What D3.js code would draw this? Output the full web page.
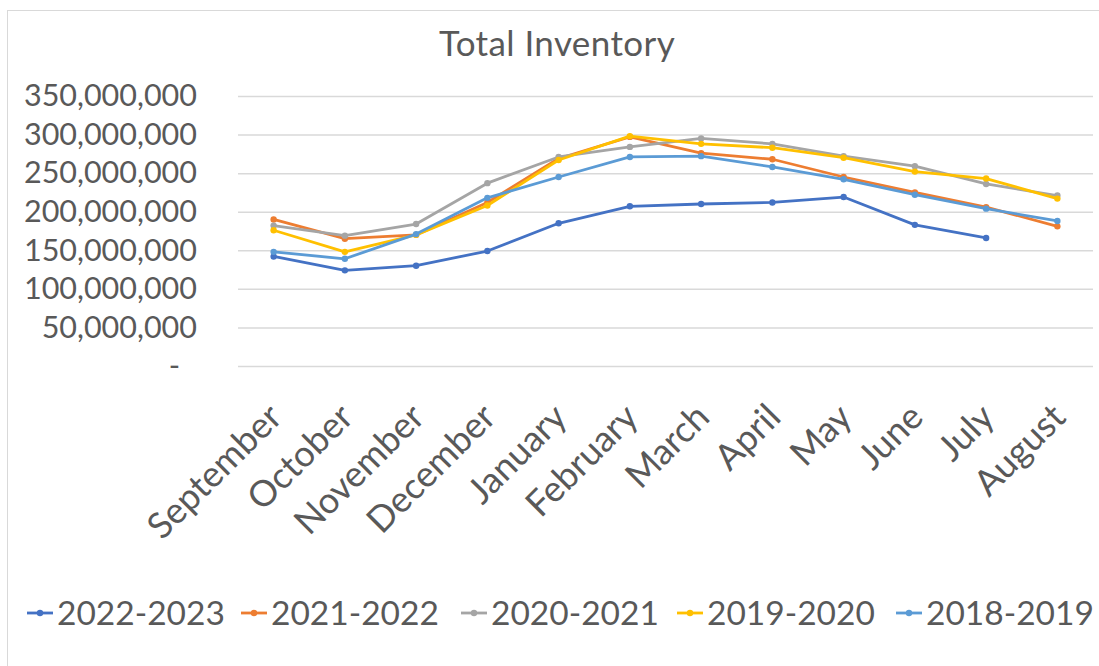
<!DOCTYPE html>
<html lang="en">
<head>
  <meta charset="UTF-8">
  <title>Total Inventory</title>
  <script src="https://d3js.org/d3.v7.min.js"></script>
  <style>
    body { margin: 0; background: #fff; }
    svg text { font-family: Lato, "Open Sans", sans-serif; fill: #595959; }
  </style>
</head>
<body>
<svg id="chart" width="1099" height="666"></svg>
<script>
  const months = ["September", "October", "November", "December", "January", "February",
                  "March", "April", "May", "June", "July", "August"];
  const yTicks = [0, 50e6, 100e6, 150e6, 200e6, 250e6, 300e6, 350e6];

  const s2022 = [142e6, 124e6, 130e6, 149e6, 185e6, 207e6, 210e6, 212e6, 219e6, 183e6, 166e6, null];
  const s2021 = [190e6, 165e6, 170e6, 212e6, 269e6, 297e6, 276e6, 268e6, 245e6, 225e6, 206e6, 181e6];
  const s2020 = [182e6, 169e6, 184e6, 237e6, 271e6, 284e6, 295e6, 288e6, 272e6, 259e6, 236e6, 221e6];
  const s2019 = [176e6, 148e6, 170e6, 208e6, 267e6, 298e6, 288e6, 283e6, 270e6, 252e6, 243e6, 217e6];
  const s2018 = [148e6, 139e6, 171e6, 218e6, 245e6, 271e6, 272e6, 258e6, 242e6, 222e6, 204e6, 188e6];

  const seriesNames = ["2022-2023", "2021-2022", "2020-2021", "2019-2020", "2018-2019"];
  const seriesValues = [s2022, s2021, s2020, s2019, s2018];
  const colors = ["#4472C4", "#ED7D31", "#A5A5A5", "#FFC000", "#5B9BD5"];

  const svg = d3.select("#chart");
  const plot = { left: 238, right: 1093, top: 96, bottom: 366 };

  // chart frame
  svg.append("rect")
    .attr("x", 7.5).attr("y", 10.5)
    .attr("width", 1100).attr("height", 700)
    .attr("fill", "none").attr("stroke", "#d9d9d9");

  const x = d3.scaleBand().domain(months).range([plot.left, plot.right]).padding(0);
  const y = d3.scaleLinear().domain([0, 350e6]).range([plot.bottom, plot.top]);
  const cx = d => x(d) + x.bandwidth() / 2;

  // gridlines
  const grid = svg.append("g")
    .attr("transform", `translate(${plot.left},0)`)
    .call(d3.axisLeft(y).tickValues(yTicks).tickSize(-(plot.right - plot.left)).tickFormat(""));
  grid.select(".domain").remove();
  grid.selectAll("line").attr("stroke", "#d9d9d9").attr("stroke-width", 1.5);

  // y axis labels
  const yAxis = svg.append("g")
    .attr("transform", `translate(${plot.left},0)`)
    .call(d3.axisLeft(y).tickValues(yTicks).tickSize(0).tickPadding(41)
      .tickFormat(d => d === 0 ? "-" : d3.format(",")(d)));
  yAxis.select(".domain").remove();
  yAxis.selectAll("text")
    .attr("font-size", "30.5px")
    .attr("fill", "#595959")
    .attr("dx", d => d === 0 ? -17 : 0);

  // x axis labels, rotated like Excel
  const xAxis = svg.append("g")
    .attr("transform", `translate(0,${plot.bottom})`)
    .call(d3.axisBottom(x).tickSize(0).tickPadding(0));
  xAxis.select(".domain").remove();
  xAxis.selectAll("text")
    .attr("font-size", "36px")
    .attr("fill", "#595959")
    .attr("text-anchor", "end")
    .attr("transform", "translate(-8,35) rotate(-45)")
    .attr("dy", "0.72em")
    .attr("y", 0);

  // lines
  const line = d3.line()
    .defined(d => d != null)
    .x((d, i) => cx(months[i]))
    .y(d => y(d));

  seriesValues.forEach((vals, k) => {
    svg.append("path")
      .datum(vals)
      .attr("fill", "none")
      .attr("stroke", colors[k])
      .attr("stroke-width", 2.8)
      .attr("stroke-linejoin", "round")
      .attr("d", line);
    svg.append("g").selectAll("circle")
      .data(vals.map((v, i) => ({ v, m: months[i] })).filter(d => d.v != null))
      .enter().append("circle")
      .attr("cx", d => cx(d.m))
      .attr("cy", d => y(d.v))
      .attr("r", 3.2)
      .attr("fill", colors[k]);
  });

  // title
  svg.append("text")
    .attr("x", 557).attr("y", 56)
    .attr("text-anchor", "middle")
    .attr("font-size", "35px")
    .attr("letter-spacing", "0.4px")
    .text("Total Inventory");

  // legend
  const legendX = [27, 241, 461, 677, 896];
  const legend = svg.append("g").selectAll("g")
    .data(seriesNames)
    .enter().append("g")
    .attr("transform", (d, i) => `translate(${legendX[i]},613)`);
  legend.append("line")
    .attr("x1", 0).attr("x2", 26)
    .attr("stroke", (d, i) => colors[i]).attr("stroke-width", 2.8);
  legend.append("circle")
    .attr("cx", 13).attr("r", 3.2)
    .attr("fill", (d, i) => colors[i]);
  legend.append("text")
    .attr("x", 30).attr("y", 12)
    .attr("font-size", "33.5px")
    .text(d => d);
</script>
</body>
</html>
